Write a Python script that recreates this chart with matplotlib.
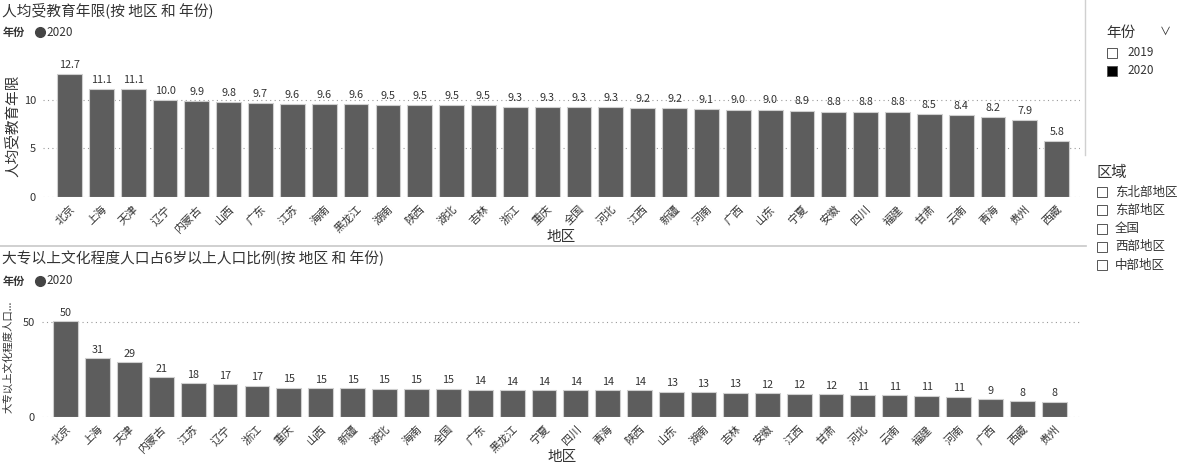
import numpy as np
import matplotlib
matplotlib.use("Agg")
import matplotlib.pyplot as plt
from matplotlib.patches import Rectangle
from matplotlib.lines import Line2D

plt.rcParams['font.family'] = ['Noto Sans CJK SC', 'DejaVu Sans']

# dados
regioes_anos = ["北京", "上海", "天津", "辽宁", "内蒙古", "山西", "广东", "江苏", "海南", "黑龙江",
                "湖南", "陕西", "湖北", "吉林", "浙江", "重庆", "全国", "河北", "江西", "新疆",
                "河南", "广西", "山东", "宁夏", "安徽", "四川", "福建", "甘肃", "云南", "青海",
                "贵州", "西藏"]
anos_educ = [12.7, 11.1, 11.1, 10.0, 9.9, 9.8, 9.7, 9.6, 9.6, 9.6,
             9.5, 9.5, 9.5, 9.5, 9.3, 9.3, 9.3, 9.3, 9.2, 9.2,
             9.1, 9.0, 9.0, 8.9, 8.8, 8.8, 8.8, 8.5, 8.4, 8.2,
             7.9, 5.8]

regioes_pct = ["北京", "上海", "天津", "内蒙古", "江苏", "辽宁", "浙江", "重庆", "山西", "新疆",
               "湖北", "海南", "全国", "广东", "黑龙江", "宁夏", "四川", "青海", "陕西", "山东",
               "湖南", "吉林", "安徽", "江西", "甘肃", "河北", "云南", "福建", "河南", "广西",
               "西藏", "贵州"]
pct_superior = [50.5, 31.0, 29.0, 20.9, 17.9, 17.4, 16.6, 15.4, 15.3, 15.1,
                15.0, 15.0, 14.9, 14.4, 14.3, 14.2, 14.1, 14.0, 14.0, 13.4,
                13.2, 12.9, 12.4, 12.3, 12.2, 11.4, 11.4, 11.3, 10.7, 9.3,
                8.4, 8.1]

anos_legenda = ["2019", "2020"]
areas_legenda = ["东北部地区", "东部地区", "全国", "西部地区", "中部地区"]

cor_barra = '#5d5d5d'
cor_borda = '#cfcfcf'
cor_texto = '#333333'
cor_grade = '#9a9a9a'

W, H = 1181, 463


def px(x, y):
    # pixel -> fracao da figura
    return x / W, 1 - y / H


def grafico_barras(ax, nomes, valores, ylim, yticks, fmt, ylabel, ylabel_size, xlim):
    x = np.arange(len(nomes))
    ax.bar(x, valores, width=0.78, color=cor_barra, edgecolor=cor_borda, linewidth=0.8, zorder=3)
    for i, v in enumerate(valores):
        ax.text(i, v + (ylim[1] * 0.03), fmt.format(v), ha='center', va='bottom',
                fontsize=7.8, color=cor_texto, zorder=4)
    ax.set_xlim(*xlim)
    ax.set_ylim(*ylim)
    ax.set_yticks(yticks)
    ax.set_yticklabels([str(t) for t in yticks], fontsize=8, color=cor_texto)
    ax.set_xticks(x)
    ax.set_xticklabels(nomes, rotation=45, ha='right', rotation_mode='anchor',
                       fontsize=8, color=cor_texto)
    ax.tick_params(axis='both', length=0, pad=5)
    ax.yaxis.grid(True, linestyle=(0, (1, 3)), color=cor_grade, linewidth=0.8, zorder=0)
    for s in ax.spines.values():
        s.set_visible(False)
    ax.set_ylabel(ylabel, fontsize=ylabel_size, color=cor_texto, labelpad=4)
    ax.set_xlabel("地区", fontsize=10.5, color=cor_texto, labelpad=2)
    return


def cabecalho(fig, y_titulo, y_sub, titulo):
    fig.text(*px(2, y_titulo), titulo, fontsize=10.6, color=cor_texto, va='center')
    fig.text(*px(3, y_sub), "年份", fontsize=8, fontweight='bold', color=cor_texto, va='center')
    fig.add_artist(Line2D([40 / W], [1 - y_sub / H], marker='o', markersize=7,
                          color='#444444', linestyle='none', transform=fig.transFigure))
    fig.text(*px(46, y_sub), "2020", fontsize=8.5, color=cor_texto, va='center')
    return


fig = plt.figure(figsize=(11.81, 4.63), dpi=100)

# grafico de cima
l, b = px(43, 197)
ax1 = fig.add_axes([l, b, (1080 - 43) / W, 136 / H])
grafico_barras(ax1, regioes_anos, anos_educ, (0, 14), [0, 5, 10], "{:.1f}",
               "人均受教育年限", 10.5, (-0.83, 31.73))
ax1.yaxis.set_label_coords(-0.0225, 0.52)
ax1.xaxis.set_label_coords(0.5, -0.24)
cabecalho(fig, 10, 32, "人均受教育年限(按 地区 和 年份)")

# grafico de baixo
l, b = px(42, 417)
ax2 = fig.add_axes([l, b, (1082 - 42) / W, 110 / H])
grafico_barras(ax2, regioes_pct, pct_superior, (0, 58), [0, 50], "{:.0f}",
               "大专以上文化程度人口...", 7.5, (-0.74, 31.87))
ax2.yaxis.set_label_coords(-0.0275, 0.55)
ax2.xaxis.set_label_coords(0.5, -0.3)
cabecalho(fig, 258, 281, "大专以上文化程度人口占6岁以上人口比例(按 地区 和 年份)")

# linhas de separacao
fig.add_artist(Line2D([0, 1086 / W], [1 - 246 / H] * 2, color='#c8c8c8', linewidth=1.2,
                      transform=fig.transFigure))
fig.add_artist(Line2D([1085 / W] * 2, [1, 1 - 155 / H], color='#d0d0d0', linewidth=1.0,
                      transform=fig.transFigure))

# legenda de anos
fig.text(*px(1106, 33), "年份", fontsize=10.5, color=cor_texto, va='center')
fig.text(*px(1165, 32), "∨", fontsize=8, color=cor_texto, va='center', ha='center')
for i, ano in enumerate(anos_legenda):
    y = 53 + i * 18
    x0, y0 = px(1107, y + 5)
    fig.patches.append(Rectangle((x0, y0), 10 / W, 10 / H, transform=fig.transFigure,
                                 facecolor='black' if ano == "2020" else 'white',
                                 edgecolor='#555555', linewidth=0.7, figure=fig))
    fig.text(*px(1127, y), ano, fontsize=8.5, color=cor_texto, va='center')

# legenda de regioes
fig.text(*px(1097, 172), "区域", fontsize=11, color=cor_texto, va='center')
for i, area in enumerate(areas_legenda):
    y = 192 + i * 18.3
    x0, y0 = px(1097, y + 5)
    fig.patches.append(Rectangle((x0, y0), 10 / W, 10 / H, transform=fig.transFigure,
                                 facecolor='white', edgecolor='#555555', linewidth=0.7, figure=fig))
    fig.text(*px(1115, y), area, fontsize=9, color=cor_texto, va='center')

fig.savefig("out.png", dpi=100)
